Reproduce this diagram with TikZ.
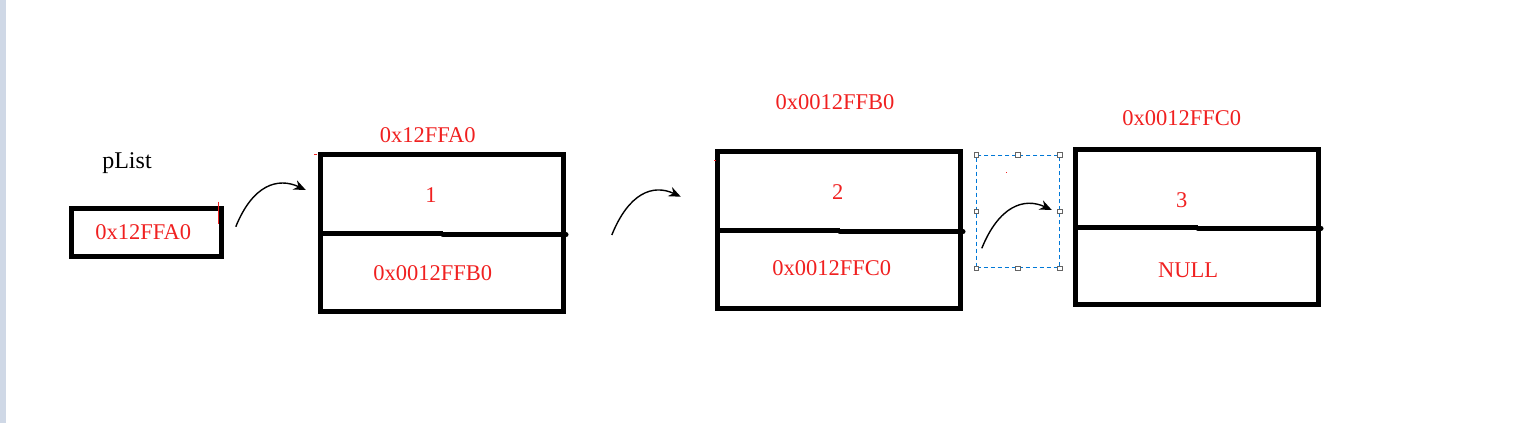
\documentclass[tikz,border=0pt]{standalone}
\usepackage{fontspec}
\setmainfont{Liberation Serif}
\usetikzlibrary{arrows.meta,calc}
\definecolor{txtred}{RGB}{240,32,32}
\definecolor{selblue}{RGB}{0,120,215}
\definecolor{stripcol}{RGB}{207,216,230}
\definecolor{handlecol}{RGB}{100,100,100}
\begin{document}
\begin{tikzpicture}[x=1pt,y=-1pt,
  cell/.style={draw,line width=5pt,inner sep=0pt,minimum width=243pt},
  lbl/.style={text=txtred,font=\fontsize{22.5}{26}\selectfont,inner sep=0pt},
  link/.style={line width=1.4pt,-{Stealth[length=12pt,width=10pt]}},
  divider/.style={line width=5pt},
  hdl/.style={draw=handlecol,fill=white,line width=0.8pt,minimum size=4.5pt,inner sep=0pt}]
\useasboundingbox (0,0) rectangle (1515,423);
\fill[stripcol] (0,0) rectangle (6,423);

% pList
\node[font=\fontsize{24}{28}\selectfont,inner sep=0pt] (plname) at (127,163) {pList};
\node[draw,line width=5pt,inner sep=0pt,minimum width=149.5pt,minimum height=48pt] (plist) at (146.25,232) {};
\node[lbl] (plval) at (143.3,231.7) {0x12FFA0};
\draw[txtred,line width=1.5pt] (218.3,201.7) -- (218.3,224);

% node 1
\node[cell,minimum height=156.5pt] (n1) at (442,232.75) {};
\draw[divider] (320.5,233.3) -- (443,233.3);
\draw[divider,line cap=round] (443,234.7) -- (566,234.7);
\node[lbl] (a1) at (427.7,135) {0x12FFA0};
\node[lbl] (v1) at (431,195) {1};
\node[lbl] (p1) at (432.7,273.3) {0x0012FFB0};
\fill[txtred] (313.5,153.5) rectangle (316.5,154.5);

% node 2
\node[cell,minimum height=157pt] (n2) at (839,230) {};
\draw[divider] (717.5,230.7) -- (840,230.7);
\draw[divider,line cap=round] (840,231.7) -- (963,231.7);
\node[lbl] (a2) at (835,101.7) {0x0012FFB0};
\node[lbl] (v2) at (837.7,191.7) {2};
\node[lbl] (p2) at (831.7,268) {0x0012FFC0};
\fill[txtred] (714,159.5) rectangle (715.5,160.5);

% node 3
\node[cell,minimum height=155.5pt] (n3) at (1197,226.75) {};
\draw[divider] (1075.5,227.3) -- (1198,227.3);
\draw[divider,line cap=round] (1198,228.3) -- (1321,228.3);
\node[lbl] (a3) at (1181.7,118.3) {0x0012FFC0};
\node[lbl] (v3) at (1181.7,200) {3};
\node[lbl] (p3) at (1188,270.7) {NULL};

% selection frame
\node[draw=selblue,dash pattern=on 4pt off 3pt,line width=1pt,inner sep=0pt,
      minimum width=82.6pt,minimum height=112.4pt] (sel) at (1018,211.5) {};
\foreach \a/\n in {north west/nw,north/nn,north east/ne,east/ee,south east/se,south/ss,south west/sw,west/ww}
  \node[hdl] (h\n) at (sel.\a) {};
\fill[txtred] (1006,171.6) rectangle (1007.4,173);

% connectors
\coordinate (s1) at ($(plist.east)+(12.3,-5.3)$);
\coordinate (e1) at ($(n1.west)+(-12.2,-42.75)$);
\coordinate (s2) at ($(n1.east)+(45.8,2.25)$);
\coordinate (e2) at ($(n2.west)+(-34.2,-33.3)$);
\coordinate (s3) at ($(n2.east)+(18.8,18.3)$);
\coordinate (e3) at ($(n3.west)+(-21.2,-16.75)$);
\draw[link] (s1) .. controls ($(s1)+(17,-42)$) and ($(e1)+(-28,-13)$) .. (e1);
\draw[link] (s2) .. controls ($(s2)+(17,-42)$) and ($(e2)+(-28,-13)$) .. (e2);
\draw[link] (s3) .. controls ($(s3)+(17,-42)$) and ($(e3)+(-28,-13)$) .. (e3);
\end{tikzpicture}
\end{document}
